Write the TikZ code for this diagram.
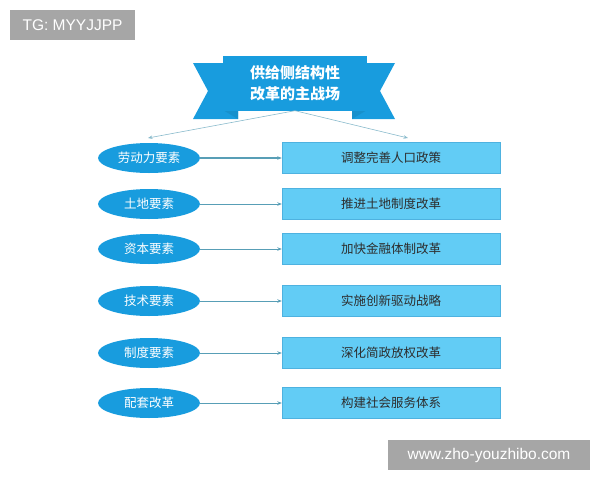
\documentclass[tikz,border=0pt]{standalone}
\usepackage{fontspec}
\setmainfont{Liberation Sans}
\newfontfamily\cjk{Noto Sans CJK SC}
\usepackage{xcolor}
\usepackage{tikz}
\usetikzlibrary{shapes.geometric, arrows.meta, positioning}
\definecolor{bannerblue}{RGB}{24,156,222}
\definecolor{boxblue}{RGB}{98,204,245}
\definecolor{boxedge}{RGB}{78,178,224}
\definecolor{linkcolor}{RGB}{88,158,182}
\definecolor{markgray}{RGB}{166,166,166}
\definecolor{textdark}{RGB}{45,45,45}

\begin{document}
\begin{tikzpicture}[
    x=1pt, y=-1pt,
    banner/.style={fill=bannerblue, minimum width=144pt, minimum height=55pt, inner sep=0pt, align=center, text=white, font=\cjk\bfseries\fontsize{15}{21}\selectfont},
    factor/.style={ellipse, fill=bannerblue, minimum width=102pt, minimum height=30pt, inner sep=0pt, text=white, font=\cjk\fontsize{12.5}{14}\selectfont},
    reform/.style={draw=boxedge, fill=boxblue, minimum width=218pt, minimum height=31pt, inner sep=0pt, text=textdark, font=\cjk\fontsize{12.5}{14}\selectfont},
    link/.style={-{Stealth[length=4.5pt, width=3.5pt]}, draw=linkcolor, line width=0.8pt},
    split/.style={-{Stealth[length=4.5pt, width=3.5pt]}, draw=linkcolor!70, line width=0.6pt},
    tag/.style={fill=markgray, text=white, inner sep=0pt, font=\fontsize{15.5}{18}\selectfont}
]
    \useasboundingbox (0,0) rectangle (600,480);

    % Banner
    \fill[bannerblue] (193,63) -- (238,63) -- (238,119) -- (193,119) -- (208,91) -- cycle;
    \fill[bannerblue] (395,63) -- (352,63) -- (352,119) -- (395,119) -- (380,91) -- cycle;
    \fill[bannerblue!92!black] (223,110) -- (238,110) -- (238,119) -- cycle;
    \fill[bannerblue!92!black] (367,110) -- (352,110) -- (352,119) -- cycle;
    \node[banner] (title) at (295,83) {供给侧结构性\\改革的主战场};
    \coordinate (ltip) at (148,138);
    \coordinate (rtip) at (408,138);
    \draw[split] (title.south) -- (ltip);
    \draw[split] (title.south) -- (rtip);

    % Factors
    \node[factor] (labor) at (149,158) {劳动力要素};
    \node[factor] (land) at (149,204) {土地要素};
    \node[factor] (capital) at (149,249) {资本要素};
    \node[factor] (tech) at (149,301) {技术要素};
    \node[factor] (system) at (149,353) {制度要素};
    \node[factor] (support) at (149,403) {配套改革};

    % Reforms
    \node[reform] (popu) at (391,158) {调整完善人口政策};
    \node[reform] (landref) at (391,204) {推进土地制度改革};
    \node[reform] (finance) at (391,249) {加快金融体制改革};
    \node[reform] (innov) at (391,301) {实施创新驱动战略};
    \node[reform] (admin) at (391,353) {深化简政放权改革};
    \node[reform] (service) at (391,403) {构建社会服务体系};

    % Links
    \draw[link, line width=1.2pt] (labor) -- (popu);
    \draw[link] (land) -- (landref);
    \draw[link] (capital) -- (finance);
    \draw[link] (tech) -- (innov);
    \draw[link] (system) -- (admin);
    \draw[link] (support) -- (service);

    % Watermarks
    \node[tag, minimum width=125pt, minimum height=30pt] (tg) at (72.5,25) {TG: MYYJJPP};
    \node[tag, minimum width=202pt, minimum height=30pt] (site) at (489,455) {www.zho-youzhibo.com};
\end{tikzpicture}
\end{document}
